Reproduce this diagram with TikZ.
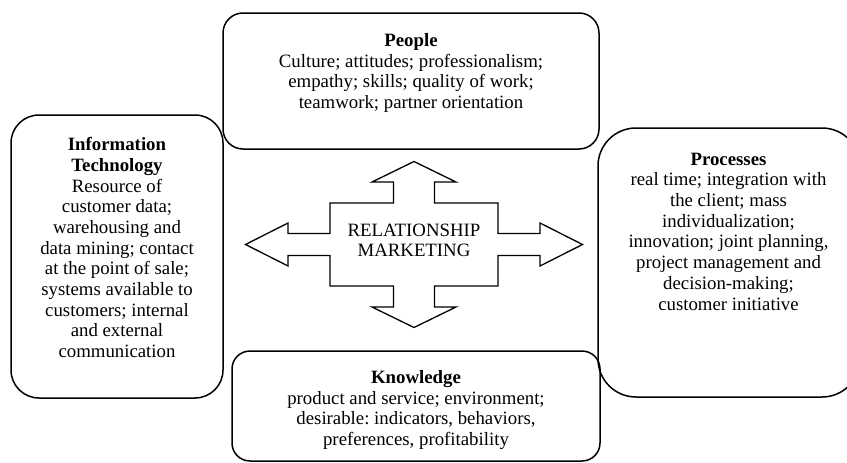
\documentclass[tikz,border=0pt]{standalone}
\usepackage{fontspec}
\setmainfont{Liberation Serif}
\frenchspacing
\begin{document}
\begin{tikzpicture}[x=1pt,y=-1pt,
  box/.style={draw, line width=1.5pt},
  txt/.style={align=center, inner sep=0pt, anchor=north,
    font=\fontsize{18.8}{20.7}\selectfont},
  bigarrow/.style={draw, line width=1.3pt, line join=miter}]
\useasboundingbox (0,0) rectangle (847,463);
\clip (0,0) rectangle (847,463);
% boxes
\draw[box, rounded corners=20pt] (223,13) rectangle (599,149);
\draw[box, rounded corners=28pt] (11,115) rectangle (223,398);
\draw[box, rounded corners=38pt] (598,128) rectangle (860,397);
\draw[box, rounded corners=18pt] (232,351) rectangle (600,461);
% central four-way arrow
\coordinate (c) at (414,244.5);
\draw[bigarrow] ([shift={(0,-83)}]c)
  -- ++(42,20.5) -- ++(-21.5,0) -- ++(0,21)
  -- ++(63.5,0) -- ++(0,30.5) -- ++(42,0) -- ++(0,-10.5)
  -- ([shift={(168.5,0)}]c)
  -- ++(-42.5,21.5) -- ++(0,-10.5) -- ++(-42,0) -- ++(0,30.5)
  -- ++(-63.5,0) -- ++(0,21) -- ++(21.5,0)
  -- ([shift={(0,83)}]c)
  -- ++(-42,-20.5) -- ++(21.5,0) -- ++(0,-21)
  -- ++(-63.5,0) -- ++(0,-30.5) -- ++(-42,0) -- ++(0,10.5)
  -- ([shift={(-168.5,0)}]c)
  -- ++(42.5,-21.5) -- ++(0,10.5) -- ++(42,0) -- ++(0,-30.5)
  -- ++(63.5,0) -- ++(0,-21) -- ++(-21.5,0) -- cycle;
\node[txt] (rm) at (414,223.6) {RELATIONSHIP\\MARKETING};
% texts
\node[txt] (people) at (411,33.3) {\textbf{People}\\Culture; attitudes; professionalism;\\empathy; skills; quality of work;\\teamwork; partner orientation};
\node[txt] (it) at (117,137.2) {\textbf{Information}\\\textbf{Technology}\\Resource of\\customer data;\\warehousing and\\data mining; contact\\at the point of sale;\\systems available to\\customers; internal\\and external\\communication};
\node[txt] (proc) at (728.5,152.6) {\textbf{Processes}\\real time; integration with\\the client; mass\\individualization;\\innovation; joint planning,\\project management and\\decision-making;\\customer initiative};
\node[txt] (know) at (416,370.2) {\textbf{Knowledge}\\product and service; environment;\\desirable: indicators, behaviors,\\preferences, profitability};
\end{tikzpicture}
\end{document}
